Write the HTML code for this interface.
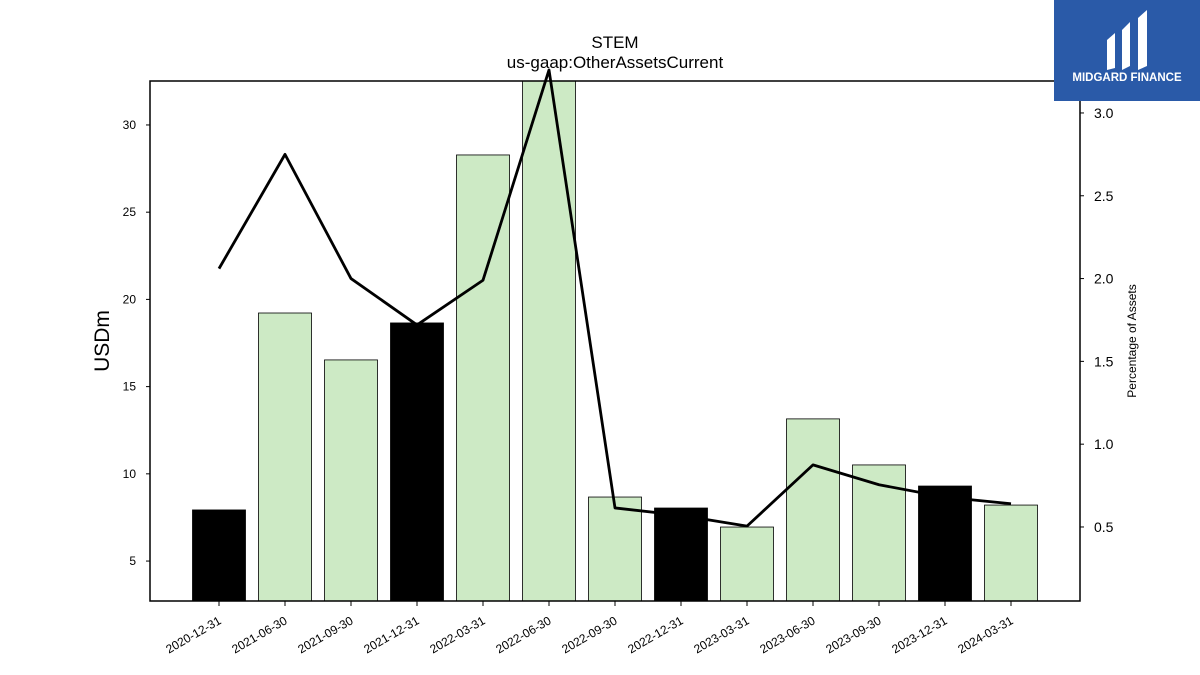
<!DOCTYPE html>
<html><head><meta charset="utf-8"><style>
body{margin:0;background:#fff;}
svg{display:block;font-family:"Liberation Sans","DejaVu Sans",sans-serif;}
</style></head><body>
<svg id="chart" width="1200" height="675" viewBox="0 0 1200 675" xmlns="http://www.w3.org/2000/svg">
<defs><clipPath id="plotclip"><rect x="150" y="81" width="930" height="520"/></clipPath></defs>
<text x="615" y="48" text-anchor="middle" font-size="17">STEM</text>
<text x="615" y="68" text-anchor="middle" font-size="17">us-gaap:OtherAssetsCurrent</text>
<g id="bars" clip-path="url(#plotclip)"></g>
<g id="line"></g>
<rect x="150" y="81" width="930" height="520" fill="none" stroke="#000" stroke-width="1.5"/>
<g id="axes"></g>
<text transform="translate(109,341) rotate(-90)" text-anchor="middle" font-size="21">USDm</text>
<text transform="translate(1136,341) rotate(-90)" text-anchor="middle" font-size="12">Percentage of Assets</text>
<g>
<rect x="1054" y="0" width="146" height="101" fill="#2a5aa8"/>
<path d="M1107 40 L1115 33 L1115 68 L1107 70 Z M1122 30 L1130 22 L1130 66 L1122 70 Z M1138 18 L1147 10 L1147 66 L1138 70 Z" fill="#fff"/>
<text x="1127" y="81" text-anchor="middle" font-size="11.5" font-weight="bold" fill="#fff">MIDGARD FINANCE</text>
</g>
</svg>
<script>
const categories=["2020-12-31","2021-06-30","2021-09-30","2021-12-31","2022-03-31","2022-06-30","2022-09-30","2022-12-31","2023-03-31","2023-06-30","2023-09-30","2023-12-31","2024-03-31"];
const barValues=[7.93,19.22,16.53,18.65,28.28,33.5,8.67,8.04,6.95,13.15,10.51,9.3,8.21];
const pctValues=[2.06,2.75,2.0,1.72,1.99,3.26,0.615,0.57,0.505,0.875,0.755,0.68,0.64];
const leftTicks=[5,10,15,20,25,30];
const rightTicks=[0.5,1.0,1.5,2.0,2.5,3.0];
const NS="http://www.w3.org/2000/svg";
const x0=150,x1=1080,yTop=81,yBot=601;
const yL=v=>yBot-(v-2.71)*(yBot-yTop)/(32.52-2.71);
const yR=v=>yBot-(v-0.053)*(yBot-yTop)/(3.193-0.053);
const step=(x1-x0)/(categories.length+1.09);
const xC=i=>219+i*66;
const bw=53;
function mk(t,a,p){const e=document.createElementNS(NS,t);for(const k in a)e.setAttribute(k,a[k]);p.appendChild(e);return e;}
const gb=document.getElementById('bars');
barValues.forEach((v,i)=>{
 const black=(categories[i].endsWith("12-31"));
 const r=mk('rect',{x:xC(i)-bw/2,y:yL(v),width:bw,height:yBot-yL(v),fill:black?'#000':'#cdeac5',stroke:'#000','stroke-width':0.8},gb);
 
 
});
const gl=document.getElementById('line');
const pl=mk('polyline',{points:pctValues.map((v,i)=>xC(i)+','+yR(v)).join(' '),fill:'none',stroke:'#000','stroke-width':2.8,'stroke-linejoin':'round'},gl);


const ga=document.getElementById('axes');
leftTicks.forEach(t=>{
 const y=yL(t);
 mk('line',{x1:x0-4,x2:x0,y1:y,y2:y,stroke:'#000'},ga);
 const tx=mk('text',{x:x0-14,y:y+4,'text-anchor':'end','font-size':12},ga);
 tx.textContent=t;
 
 
});
rightTicks.forEach(t=>{
 const y=yR(t);
 mk('line',{x1:x1,x2:x1+4,y1:y,y2:y,stroke:'#000'},ga);
 const tx=mk('text',{x:x1+14,y:y+5,'font-size':14},ga);
 tx.textContent=t.toFixed(1);
 
 
});
categories.forEach((c,i)=>{
 const x=xC(i);
 mk('line',{x1:x,x2:x,y1:yBot,y2:yBot+5,stroke:'#000'},ga);
 const tx=mk('text',{transform:`translate(${x+3},${yBot+22}) rotate(-30)`,'text-anchor':'end','font-size':12},ga);
 tx.textContent=c;
 
 
});
</script>
</body></html>
